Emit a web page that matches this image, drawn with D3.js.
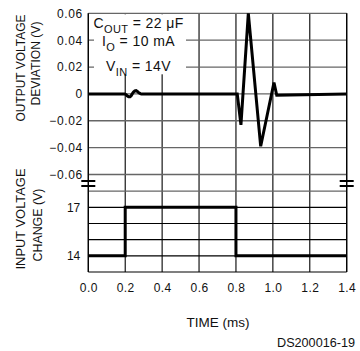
<!DOCTYPE html>
<html>
<head>
<meta charset="utf-8">
<script src="https://cdn.jsdelivr.net/npm/d3@7"></script>
<style>
  body { margin: 0; background: #fff; }
  svg { display: block; font-family: "Liberation Sans", Arial, sans-serif; }
</style>
</head>
<body>
<svg id="chart" width="360" height="351"></svg>
<script>
// data
const timeTicks = [0, 0.2, 0.4, 0.6, 0.8, 1.0, 1.2, 1.4];
const outTicks = [0.06, 0.04, 0.02, 0, -0.02, -0.04, -0.06];
const inTicks = [14, 17];
const inGrid = [13, 14, 15, 16, 17, 18];

const outTime = [0, 0.197, 0.205, 0.212, 0.219, 0.226, 0.232, 0.238, 0.245, 0.252, 0.259, 0.266, 0.274, 0.282, 0.287,
                 0.807, 0.827, 0.867, 0.934, 1.006, 1.021, 1.4];
const outDev  = [0, 0, -0.0006, -0.0016, -0.0022, -0.0022, -0.0014, 0, 0.0014, 0.0022, 0.0024, 0.0018, 0.0008, 0.0002, 0,
                 0, -0.023, 0.06, -0.039, 0.0085, -0.001, 0];

const inTime = [0, 0.2, 0.2, 0.8, 0.8, 1.4];
const inVolt = [14, 14, 17, 17, 14, 14];

const plotLeft = 88.3, plotRight = 346.7;

const svg = d3.select("#chart");

const x = d3.scaleLinear().domain([0, 1.4]).range([plotLeft, plotRight]);
const yOut = d3.scaleLinear().domain([-0.06, 0.06]).range([174.5, 13.3]);
const yIn = d3.scaleLinear().domain([13, 19]).range([272, 175]);

const plotTop = yOut(0.06), plotBottom = yIn(13);

// grid
const grid = svg.append("g").attr("fill", "none");
grid.selectAll(".vg")
    .data(timeTicks)
    .enter()
    .append("line")
    .attr("x1", d => x(d)).attr("x2", d => x(d))
    .attr("y1", plotTop).attr("y2", plotBottom)
    .attr("stroke", "#000").attr("stroke-width", 1.1);

grid.selectAll(".hg")
    .data(outTicks)
    .enter()
    .append("line")
    .attr("x1", plotLeft).attr("x2", plotRight)
    .attr("y1", d => yOut(d)).attr("y2", d => yOut(d))
    .attr("stroke", "#666").attr("stroke-width", 1.3);

grid.selectAll(".hgi")
    .data(inGrid)
    .enter()
    .append("line")
    .attr("x1", plotLeft).attr("x2", plotRight)
    .attr("y1", d => yIn(d)).attr("y2", d => yIn(d))
    .attr("stroke", d => d === 18 ? "#666" : "#000")
    .attr("stroke-width", d => d === 18 ? 1.3 : 1.1);

// frame sides
[plotLeft, plotRight].forEach(px => {
    svg.append("line")
        .attr("x1", px).attr("x2", px)
        .attr("y1", plotTop).attr("y2", plotBottom)
        .attr("stroke", "#000").attr("stroke-width", 1.2);
});

// traces
const outLine = d3.line()
    .x((d, i) => x(outTime[i]))
    .y(d => yOut(d));

svg.append("path")
    .attr("d", outLine(outDev))
    .attr("fill", "none")
    .attr("stroke", "#000")
    .attr("stroke-width", 3);

const inLine = d3.line()
    .x((d, i) => x(inTime[i]))
    .y(d => yIn(d));

svg.append("path")
    .attr("d", inLine(inVolt))
    .attr("fill", "none")
    .attr("stroke", "#000")
    .attr("stroke-width", 3);

// axes
const fmtOut = d => d === 0 ? "0" : (d < 0 ? "\u2212" : "") + Math.abs(d).toFixed(2);

const axOut = svg.append("g")
    .attr("transform", "translate(" + plotLeft + ",0)")
    .call(d3.axisLeft(yOut).tickValues(outTicks).tickSize(0).tickPadding(5.6).tickFormat(fmtOut));

const axIn = svg.append("g")
    .attr("transform", "translate(" + plotLeft + ",0)")
    .call(d3.axisLeft(yIn).tickValues(inTicks).tickSize(0).tickPadding(8).tickFormat(d3.format("d")));

const axX = svg.append("g")
    .attr("transform", "translate(0," + plotBottom + ")")
    .call(d3.axisBottom(x).tickValues(timeTicks).tickSize(0).tickPadding(11).tickFormat(d3.format(".1f")));

[axOut, axIn, axX].forEach(ax => {
    ax.select(".domain").remove();
    ax.selectAll("text")
        .attr("fill", "#111")
        .style("font-family", "'Liberation Sans', Arial, sans-serif")
        .style("font-size", "12px");
});
axOut.selectAll("text").style("letter-spacing", "0.6px");
axX.selectAll("text").style("letter-spacing", "0.4px");

// axis break marks
[plotLeft, plotRight].forEach(px => {
    [181, 186].forEach(py => {
        svg.append("line")
            .attr("x1", px - 7).attr("x2", px + 7)
            .attr("y1", py).attr("y2", py)
            .attr("stroke", "#000").attr("stroke-width", 2);
    });
});

// titles
const title = (txt, cx, cy, len) => {
    svg.append("text")
        .attr("transform", "translate(" + cx + "," + cy + ") rotate(-90)")
        .attr("text-anchor", "middle")
        .attr("font-size", 13)
        .attr("fill", "#111")
        .attr("textLength", len)
        .attr("lengthAdjust", "spacingAndGlyphs")
        .text(txt);
};
title("OUTPUT VOLTAGE", 25, 68, 107);
title("DEVIATION (V)", 40, 63.5, 84);
title("INPUT VOLTAGE", 25, 219, 101);
title("CHANGE (V)", 41.5, 225, 73);

svg.append("text")
    .attr("x", 218).attr("y", 327)
    .attr("text-anchor", "middle")
    .attr("font-size", 13)
    .attr("fill", "#111")
    .attr("textLength", 63)
    .attr("lengthAdjust", "spacingAndGlyphs")
    .text("TIME (ms)");

svg.append("text")
    .attr("x", 355).attr("y", 346.5)
    .attr("text-anchor", "end")
    .attr("font-size", 12)
    .attr("fill", "#111")
    .attr("textLength", 78)
    .attr("lengthAdjust", "spacingAndGlyphs")
    .text("DS200016-19");

// conditions box
svg.append("rect")
    .attr("x", 94).attr("y", plotTop + 1)
    .attr("width", 92).attr("height", 60)
    .attr("fill", "#fff");

const notes = [
    { main: "C", sub: "OUT", rest: " = 22 \u03bcF", y: 27.5 },
    { main: "I", sub: "O", rest: " = 10 mA", y: 45.5 },
    { main: "V", sub: "IN", rest: " = 14V", y: 71 }
];

notes.forEach(n => {
    const t = svg.append("text")
        .attr("x", 138.5).attr("y", n.y)
        .attr("text-anchor", "middle")
        .attr("font-size", 14)
        .attr("fill", "#111")
        .style("letter-spacing", "0.4px");
    t.append("tspan").text(n.main);
    t.append("tspan").attr("dy", 5).attr("font-size", 11).text(n.sub);
    t.append("tspan").attr("dy", -5).text(n.rest);
});
</script>
</body>
</html>
